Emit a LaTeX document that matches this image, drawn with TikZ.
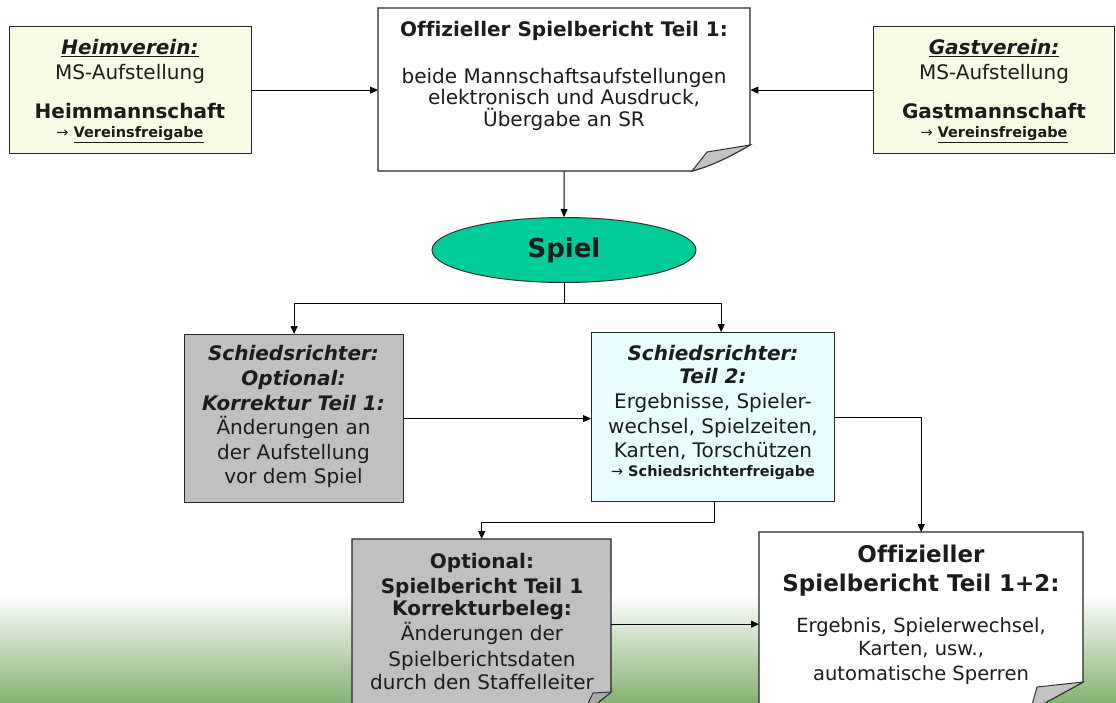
\documentclass[tikz,border=0pt]{standalone}
\usepackage{fontspec}
\setmainfont{DejaVu Sans}[Ligatures=NoCommon]
\usetikzlibrary{arrows.meta,shapes.geometric}
\definecolor{yel}{RGB}{249,252,229}
\definecolor{grayb}{RGB}{192,192,192}
\definecolor{cyanb}{RGB}{232,253,253}
\definecolor{spielg}{RGB}{0,204,153}
\definecolor{grass}{RGB}{132,178,112}
\definecolor{grassm}{RGB}{212,228,204}
\definecolor{txt}{RGB}{28,28,28}
\definecolor{curl}{RGB}{196,196,196}
\definecolor{curld}{RGB}{170,170,170}
\begin{document}
\begin{tikzpicture}[x=1pt,y=-1pt,
  box/.style={draw=black!85, line width=1.2pt, inner sep=0pt, anchor=north west},
  area/.style={inner sep=0pt, anchor=north west},
  page/.style={draw=black!85, line width=1.2pt},
  t/.style={anchor=base, inner sep=0pt, text=txt, font=\fontsize{20}{24}\selectfont},
  tb/.style={t, font=\fontsize{20}{24}\selectfont\bfseries},
  tbig/.style={t, font=\fontsize{23}{27}\selectfont\bfseries},
  tbi/.style={t, font=\fontsize{20}{24}\selectfont\bfseries\itshape},
  ts/.style={t, font=\fontsize{14.5}{17}\selectfont\bfseries},
  arr/.style={draw=black, line width=1pt, -{Triangle[length=8pt,width=7pt]}},
  ln/.style={draw=black, line width=1pt}
]
\useasboundingbox (0,0) rectangle (1116,703);
\begin{scope}
\clip (0,0) rectangle (1116,703);
\fill[white] (0,0) rectangle (1116,703);
\shade[top color=white, middle color=grassm, bottom color=grass] (0,594) rectangle (1116,703);

% --- top row
\node[box, fill=yel, minimum width=242, minimum height=127] (heim) at (9,26) {};
\node[box, fill=yel, minimum width=241, minimum height=127] (gast) at (873,26) {};
\node[area, minimum width=372, minimum height=163] (doc1) at (378,8) {};
\draw[page, fill=white] (378,8) -- (750,8) -- (750,145) .. controls (728,158) and (708,167) .. (692,171) -- (378,171) -- cycle;
\draw[line width=1pt, draw=black!80, fill=curl] (692,171) -- (707,152) -- (750,145) .. controls (728,158) and (708,167) .. (692,171) -- cycle;

\node[t,tbi] (h1) at (130,55) {\underline{Heimverein:}};
\node[t] (h2) at (130,80) {MS-Aufstellung};
\node[tb] (h3) at (130,119) {Heimmannschaft};
\node[ts] (h4) at (130,138) {{\mdseries →} \underline{Vereinsfreigabe}};

\node[tbi] (g1) at (994,55) {\underline{Gastverein:}};
\node[t] (g2) at (994,80) {MS-Aufstellung};
\node[tb] (g3) at (994,119) {Gastmannschaft};
\node[ts] (g4) at (994,138) {{\mdseries →} \underline{Vereinsfreigabe}};

\node[tb] (d1a) at (564,37) {Offizieller Spielbericht Teil 1:};
\node[t] (d1b) at (564,84) {beide Mannschaftsaufstellungen};
\node[t] (d1c) at (564,105) {elektronisch und Ausdruck,};
\node[t] (d1d) at (564,127) {Übergabe an SR};

% --- Spiel
\node[draw=black!80, line width=1pt, fill=spielg, ellipse, minimum width=264, minimum height=65, inner sep=0pt, text=txt, font=\fontsize{26}{30}\selectfont\bfseries] (spiel) at (564,250) {Spiel};

% --- middle row
\node[box, fill=grayb, minimum width=219, minimum height=168] (sr1) at (184,334) {};
\node[box, fill=cyanb, minimum width=243, minimum height=169] (sr2) at (591,332) {};

\node[tbi] (s1a) at (293.5,360) {Schiedsrichter:};
\node[tbi] (s1b) at (293.5,385) {Optional:};
\node[tbi] (s1c) at (293.5,410) {Korrektur Teil 1:};
\node[t] (s1d) at (293.5,434) {Änderungen an};
\node[t] (s1e) at (293.5,459) {der Aufstellung};
\node[t] (s1f) at (293.5,483) {vor dem Spiel};

\node[tbi] (s2a) at (713,360) {Schiedsrichter:};
\node[tbi] (s2b) at (713,383) {Teil 2:};
\node[t] (s2c) at (713,408) {Ergebnisse, Spieler-};
\node[t] (s2d) at (713,433) {wechsel, Spielzeiten,};
\node[t] (s2e) at (713,457) {Karten, Torschützen};
\node[ts] (s2f) at (713,476) {{\mdseries →} Schiedsrichterfreigabe};

% --- bottom row
\node[area, minimum width=259, minimum height=170] (doc2) at (352,539) {};
\draw[page, fill=grayb] (352,539) -- (611,539) -- (611,692) .. controls (602,700) and (592,707) .. (583,714) -- (352,714) -- cycle;
\draw[line width=1pt, draw=black!80, fill=curld] (583,714) -- (593,693) -- (611,692) .. controls (602,700) and (592,707) .. (583,714) -- cycle;

\node[area, minimum width=324, minimum height=180] (doc3) at (759,532) {};
\draw[page, fill=white] (759,532) -- (1083,532) -- (1083,682) .. controls (1066,692) and (1045,702) .. (1030,712) -- (759,712) -- cycle;
\draw[line width=1pt, draw=black!80, fill=curl] (1030,712) -- (1037,687) -- (1083,682) .. controls (1066,692) and (1045,702) .. (1030,712) -- cycle;

\node[tb] (b1a) at (482,568) {Optional:};
\node[tb] (b1b) at (482,593) {Spielbericht Teil 1};
\node[tb] (b1c) at (482,615) {Korrekturbeleg:};
\node[t] (b1d) at (482,640) {Änderungen der};
\node[t] (b1e) at (482,666) {Spielberichtsdaten};
\node[t] (b1f) at (482,689) {durch den Staffelleiter};

\node[tbig] (b2a) at (921,562) {Offizieller};
\node[tbig] (b2b) at (921,591) {Spielbericht Teil 1+2:};
\node[t, font=\fontsize{19.5}{23}\selectfont] (b2c) at (921,632) {Ergebnis, Spielerwechsel,};
\node[t, font=\fontsize{19.5}{23}\selectfont] (b2d) at (921,655) {Karten, usw.,};
\node[t, font=\fontsize{19.5}{23}\selectfont] (b2e) at (921,680) {automatische Sperren};

% --- connectors
\draw[arr] (heim.east) -- (heim.east -| doc1.west);
\draw[arr] (gast.west) -- (gast.west -| doc1.east);
\draw[arr] (doc1.south) -- (spiel.north);
\coordinate (jn) at (564,303);
\draw[ln] (spiel.south) -- (jn);
\draw[arr] (jn) -| (sr1.north);
\draw[arr] (jn) -| ([xshift=8pt]sr2.north);
\draw[arr] (sr1.east) -- (sr1.east -| sr2.west);
\draw[arr] (sr2.east) -| (doc3.north);
\draw[arr] ([xshift=1pt]sr2.south) -- ++(0,20) -| (doc2.north);
\draw[arr] (doc2.east) -- (doc2.east -| doc3.west);
\end{scope}
\end{tikzpicture}
\end{document}
